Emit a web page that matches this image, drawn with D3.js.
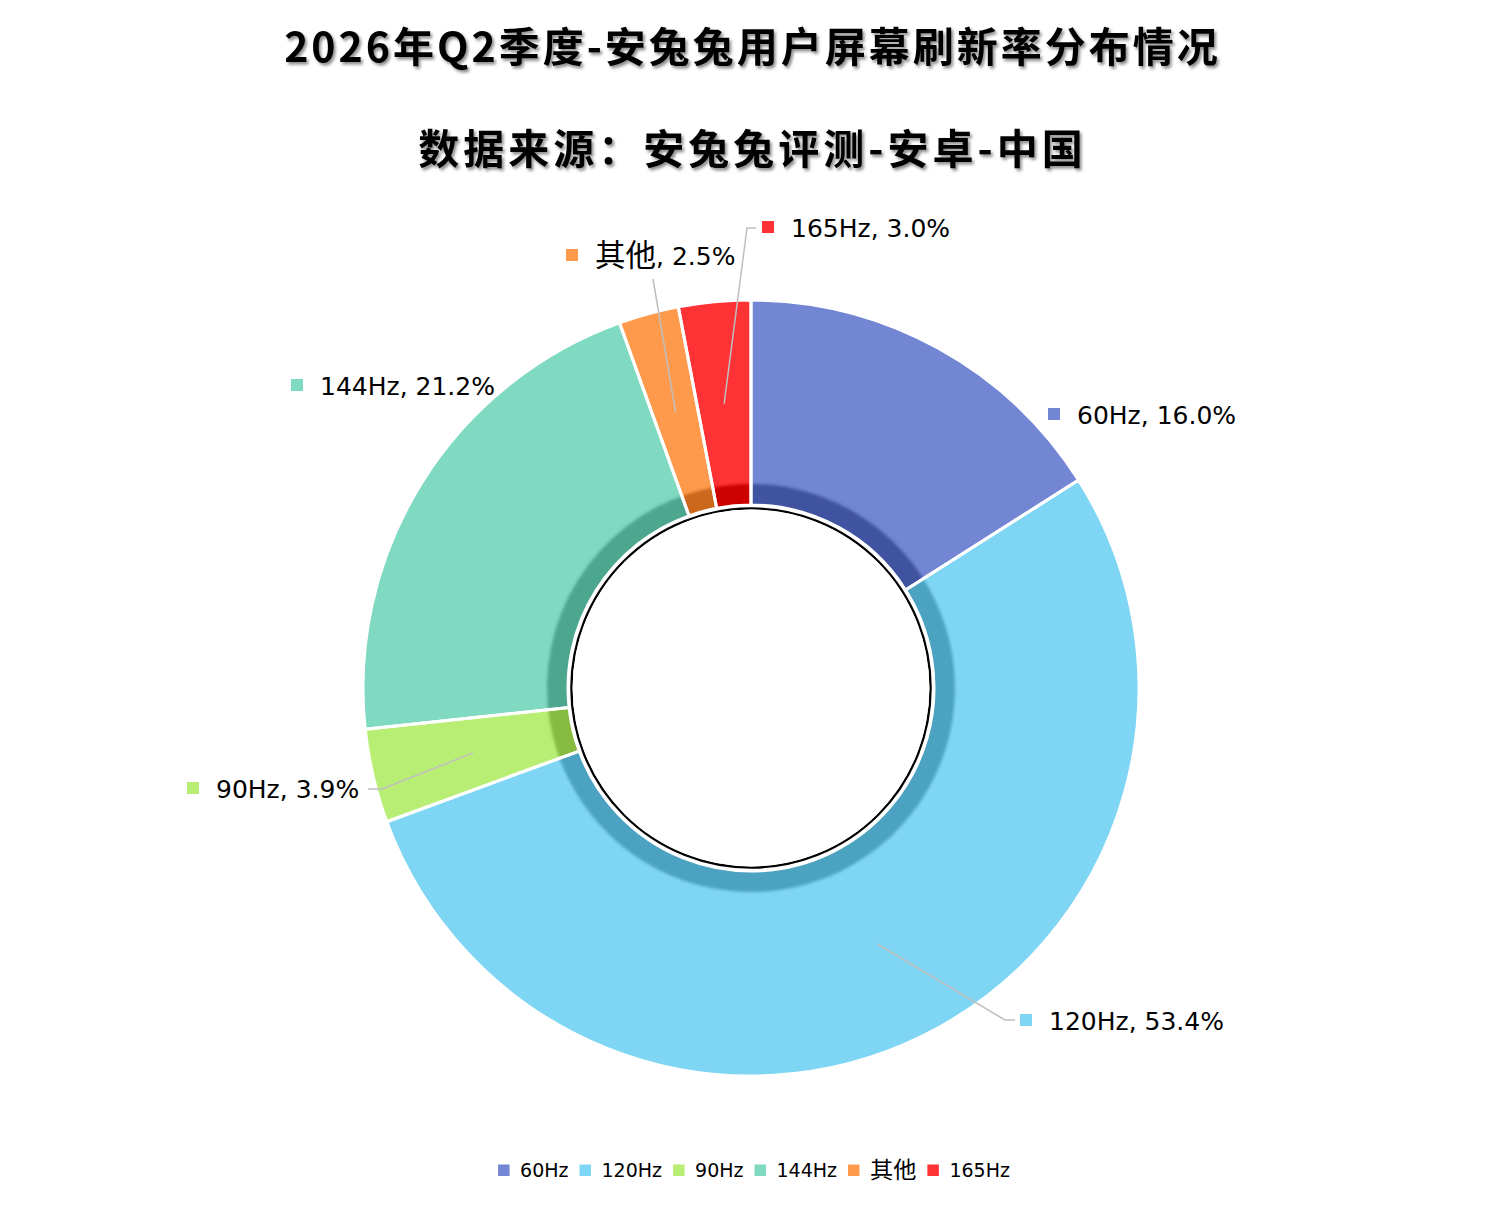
<!DOCTYPE html>
<html>
<head>
<meta charset="utf-8">
<script src="https://cdn.jsdelivr.net/npm/d3@7/dist/d3.min.js"></script>
<style>
  html, body { margin: 0; padding: 0; background: #fff; }
  svg { display: block; }
</style>
</head>
<body>
<svg id="chart" width="1507" height="1206"></svg>
<script>
// ---- data ----
const categories = ["60Hz", "120Hz", "90Hz", "144Hz", "其他", "165Hz"];
const values = [16.0, 53.4, 3.9, 21.2, 2.5, 3.0];
const titleLines = ["2026年Q2季度-安兔兔用户屏幕刷新率分布情况", "数据来源：安兔兔评测-安卓-中国"];

// ---- styles / layout ----
const colors = ["#7286D3", "#7FD6F4", "#B9EE74", "#80D9C1", "#FF9A4D", "#FF3236"];
const W = 1507, H = 1206;
const cx = 751, cy = 688;
const rOuter = 388, rInner = 183, rShade = 204;
const labelFont = "'DejaVu Sans', 'Noto Sans CJK SC', sans-serif";
const cjkScale = 1.22;
// label placement relative to pie centre (square left edge, square centre y)
const labelLayout = {
  "60Hz":  { dx: 297,  dy: -274 },
  "120Hz": { dx: 269,  dy: 332,  elbow: [254, 332],  end: [264, 332] },
  "90Hz":  { dx: -564, dy: 100,  elbow: [-369, 101], end: [-383, 101] },
  "144Hz": { dx: -460, dy: -303 },
  "其他":  { dx: -185, dy: -433, elbow: [-98, -409], end: [-98, -409] },
  "165Hz": { dx: 11,   dy: -461, elbow: [-4, -460],  end: [5, -460] }
};

const svg = d3.select("#chart");
const defs = svg.append("defs");

// title shadow
const fs = defs.append("filter").attr("id", "tshadow")
  .attr("x", "-10%").attr("y", "-30%").attr("width", "120%").attr("height", "160%");
fs.append("feDropShadow").attr("dx", 2).attr("dy", 2.5).attr("stdDeviation", 1.8)
  .attr("flood-color", "#000").attr("flood-opacity", 0.45);

const fb = defs.append("filter").attr("id", "blurShade")
  .attr("x", "-20%").attr("y", "-20%").attr("width", "140%").attr("height", "140%");
fb.append("feGaussianBlur").attr("stdDeviation", 1.6);

const fb2 = defs.append("filter").attr("id", "blurRing")
  .attr("x", "-10%").attr("y", "-10%").attr("width", "120%").attr("height", "120%");
fb2.append("feGaussianBlur").attr("stdDeviation", 0.6);

// ---- title ----
svg.append("g").attr("filter", "url(#tshadow)")
  .selectAll("text").data(titleLines).join("text")
  .attr("x", W / 2 - 1)
  .attr("y", (d, i) => i === 0 ? 62 : 164)
  .attr("text-anchor", "middle")
  .attr("font-family", "'Noto Sans CJK SC', sans-serif")
  .attr("font-weight", "bold")
  .attr("font-size", 41)
  .attr("letter-spacing", (d, i) => i === 0 ? 3 : 4)
  .attr("fill", "#000")
  .text(d => d);

// ---- pie ----
const data = categories.map((c, i) => ({ cat: c, value: values[i], color: colors[i] }));
const pie = d3.pie().sort(null).value(d => d.value).startAngle(0).endAngle(2 * Math.PI);
const arcs = pie(data);
const arc = d3.arc().innerRadius(rInner).outerRadius(rOuter);
const shadeArc = d3.arc().innerRadius(rInner - 6).outerRadius(rShade);
const centroidArc = d3.arc().innerRadius(rInner).outerRadius(rOuter);

const g = svg.append("g").attr("transform", `translate(${cx},${cy})`);

arcs.forEach((a, i) => {
  defs.append("clipPath").attr("id", "clip" + i)
    .append("path").attr("d", arc(a));
});

g.selectAll("path.slice").data(arcs).join("path")
  .attr("class", "slice")
  .attr("d", arc)
  .attr("fill", d => d.data.color);

function darker(c) {
  const r = d3.rgb(c);
  return d3.rgb(Math.max(0, r.r - 51), Math.max(0, r.g - 51), Math.max(0, r.b - 51)).formatHex();
}

g.selectAll("g.shade").data(arcs).join("g")
  .attr("class", "shade")
  .attr("clip-path", (d, i) => `url(#clip${i})`)
  .append("path")
  .attr("d", d => shadeArc({ startAngle: d.startAngle - 0.05, endAngle: d.endAngle + 0.05 }))
  .attr("fill", d => darker(d.data.color))
  .attr("filter", "url(#blurShade)");

g.selectAll("path.sep").data(arcs).join("path")
  .attr("class", "sep")
  .attr("d", arc)
  .attr("fill", "none")
  .attr("stroke", "#fff")
  .attr("stroke-width", 3)
  .attr("stroke-linejoin", "round");

// inner hole
g.append("circle").attr("r", rInner).attr("fill", "#fff");
g.append("circle").attr("r", rInner - 3.4).attr("fill", "none")
  .attr("stroke", "#000").attr("stroke-width", 2.4).attr("filter", "url(#blurRing)");
g.append("circle").attr("r", rInner - 4.6).attr("fill", "#fff");

// ---- leader lines ----
arcs.forEach(a => {
  const L = labelLayout[a.data.cat];
  if (!L.elbow) return;
  const c = centroidArc.centroid(a);
  const pts = [c, L.elbow, L.end];
  g.append("path")
    .attr("d", d3.line()(pts))
    .attr("fill", "none")
    .attr("stroke", "#BFBFBF")
    .attr("stroke-width", 1.5);
});

const isCJK = s => /[^\x00-\x7F]/.test(s);

// ---- data labels ----
const lab = g.selectAll("g.lab").data(arcs).join("g")
  .attr("class", "lab")
  .attr("transform", d => {
    const L = labelLayout[d.data.cat];
    return `translate(${L.dx},${L.dy})`;
  });
lab.append("rect")
  .attr("x", 0).attr("y", -6).attr("width", 12).attr("height", 12)
  .attr("fill", d => d.data.color);
const lt = lab.append("text")
  .attr("x", 29).attr("y", 9.5)
  .attr("font-family", labelFont)
  .attr("font-size", 25)
  .attr("fill", "#000");
lt.append("tspan")
  .attr("font-size", d => isCJK(d.data.cat) ? 25 * cjkScale : 25)
  .attr("dy", d => isCJK(d.data.cat) ? 1 : 0)
  .text(d => d.data.cat);
lt.append("tspan")
  .attr("dy", d => isCJK(d.data.cat) ? -1 : 0)
  .text(d => `, ${d.data.value.toFixed(1)}%`);

// ---- legend ----
const leg = svg.append("g");
const items = leg.selectAll("g").data(data).join("g");
items.append("rect").attr("x", 0).attr("y", 1164.5).attr("width", 11.5).attr("height", 11.5)
  .attr("fill", d => d.color);
items.append("text").attr("x", 22).attr("y", d => isCJK(d.cat) ? 1178 : 1177)
  .attr("font-family", labelFont)
  .attr("font-size", d => isCJK(d.cat) ? 19 * cjkScale : 19)
  .attr("fill", "#000")
  .text(d => d.cat);
let xpos = 0;
const offs = [];
items.each(function () {
  offs.push(xpos);
  const w = d3.select(this).select("text").node().getComputedTextLength();
  xpos += 22 + w + 11;
});
const total = xpos - 11;
const start = 754 - total / 2;
items.attr("transform", (d, i) => `translate(${start + offs[i]},0)`);
</script>
</body>
</html>
